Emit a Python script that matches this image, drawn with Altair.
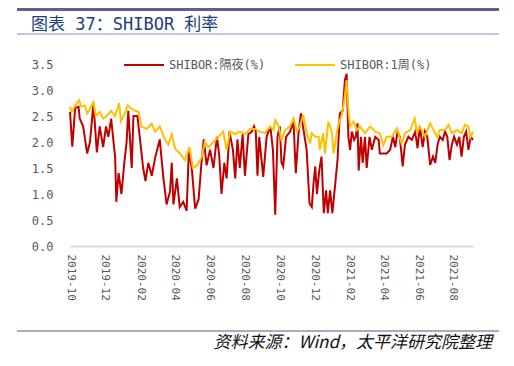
import altair as alt
import pandas as pd

# ---- data ----
on_dates = [
    "2019-10-01", "2019-10-05", "2019-10-10", "2019-10-16", "2019-10-18", "2019-10-24", "2019-10-31",
    "2019-11-05", "2019-11-11", "2019-11-17", "2019-11-22", "2019-11-28",
    "2019-12-03", "2019-12-07", "2019-12-12", "2019-12-19", "2019-12-21", "2019-12-25", "2019-12-30",
    "2020-01-04", "2020-01-08", "2020-01-11", "2020-01-17", "2020-01-20", "2020-01-27", "2020-01-30",
    "2020-02-06", "2020-02-10", "2020-02-15", "2020-02-21", "2020-02-27",
    "2020-03-06", "2020-03-12", "2020-03-18", "2020-03-24", "2020-03-27", "2020-03-30",
    "2020-04-05", "2020-04-10", "2020-04-16", "2020-04-22", "2020-04-26",
    "2020-05-01", "2020-05-07", "2020-05-13", "2020-05-18", "2020-05-22", "2020-05-27",
    "2020-06-02", "2020-06-08", "2020-06-14", "2020-06-18", "2020-06-22", "2020-06-27",
    "2020-07-01", "2020-07-06", "2020-07-12", "2020-07-16", "2020-07-20", "2020-07-24", "2020-07-29",
    "2020-08-02", "2020-08-08", "2020-08-14", "2020-08-18", "2020-08-21", "2020-08-24", "2020-08-27",
    "2020-09-03", "2020-09-09", "2020-09-12", "2020-09-16", "2020-09-20", "2020-09-24", "2020-09-28",
    "2020-10-02", "2020-10-05", "2020-10-08", "2020-10-13", "2020-10-20", "2020-10-26", "2020-10-30",
    "2020-11-04", "2020-11-08", "2020-11-13", "2020-11-18", "2020-11-23", "2020-11-27", "2020-11-30",
    "2020-12-03", "2020-12-06", "2020-12-10", "2020-12-14", "2020-12-18", "2020-12-22", "2020-12-25", "2020-12-29",
    "2021-01-02", "2021-01-07", "2021-01-11", "2021-01-15", "2021-01-20", "2021-01-24", "2021-01-27", "2021-01-30",
    "2021-02-02", "2021-02-05", "2021-02-09", "2021-02-12", "2021-02-15", "2021-02-17", "2021-02-21", "2021-02-24", "2021-02-28",
    "2021-03-03", "2021-03-08", "2021-03-12", "2021-03-18", "2021-03-24", "2021-03-26",
    "2021-04-01", "2021-04-07", "2021-04-13", "2021-04-18", "2021-04-22", "2021-04-26", "2021-04-30",
    "2021-05-05", "2021-05-09", "2021-05-15", "2021-05-21", "2021-05-27", "2021-05-31",
    "2021-06-04", "2021-06-09", "2021-06-13", "2021-06-17", "2021-06-22", "2021-06-27",
    "2021-07-01", "2021-07-05", "2021-07-09", "2021-07-14", "2021-07-18", "2021-07-22", "2021-07-26", "2021-07-30",
    "2021-08-03", "2021-08-08", "2021-08-12", "2021-08-16", "2021-08-20", "2021-08-24", "2021-08-28",
    "2021-09-01", "2021-09-05",
]
on_values = [
    2.58, 1.91, 2.65, 2.68, 2.45, 2.30, 1.78,
    2.00, 2.74, 1.80, 2.30, 1.90,
    2.30, 2.10, 2.45, 1.70, 0.85, 1.40, 1.00,
    1.60, 2.00, 2.60, 1.50, 2.50, 2.50, 2.20,
    1.50, 1.25, 1.60, 1.35, 1.70,
    2.05, 1.35, 0.80, 1.05, 1.60, 0.80,
    1.30, 0.75, 0.85, 0.68, 1.85,
    1.50, 0.72, 0.90, 1.60, 2.05, 1.55,
    1.85, 1.50, 2.10, 1.75, 1.00, 1.60,
    1.30, 2.20, 1.85, 1.30, 2.05, 1.50, 2.15,
    1.35, 2.15, 2.20, 2.30, 2.20, 1.35, 2.10,
    1.33, 2.10, 2.20, 2.25, 1.85, 0.60, 2.10,
    2.30, 1.60, 1.53, 2.10, 2.20, 2.40, 1.40,
    2.20, 2.55, 2.20, 1.85, 0.82, 0.75, 1.20,
    1.53, 1.00, 1.45, 1.72, 0.63, 1.07, 0.63, 1.07,
    0.63, 1.20, 1.65, 2.55, 2.60, 3.20, 3.31, 2.10,
    1.85, 2.20, 2.04, 2.10, 2.36, 1.45, 2.10, 1.60, 2.10,
    1.50, 2.10, 1.85, 2.10, 2.04, 1.78,
    1.78, 1.78, 1.85, 2.10, 1.90, 2.20, 2.10,
    1.53, 1.95, 2.10, 2.04, 2.20, 1.88,
    2.30, 1.90, 2.20, 2.10, 1.56, 1.72,
    1.60, 1.95, 2.10, 2.04, 2.20, 2.10, 1.65, 1.95,
    2.10, 1.95, 2.10, 1.72, 2.10, 2.20, 1.85,
    2.10, 2.04,
]

w1_dates = [
    "2019-10-01", "2019-10-04", "2019-10-10", "2019-10-17", "2019-10-21", "2019-10-27", "2019-10-31",
    "2019-11-05", "2019-11-11", "2019-11-15", "2019-11-22", "2019-11-28",
    "2019-12-04", "2019-12-12", "2019-12-19", "2019-12-26", "2019-12-29",
    "2020-01-05", "2020-01-10", "2020-01-15", "2020-01-23", "2020-01-29",
    "2020-02-03", "2020-02-12", "2020-02-21", "2020-02-27",
    "2020-03-06", "2020-03-15", "2020-03-21", "2020-03-27",
    "2020-04-02", "2020-04-10", "2020-04-19", "2020-04-27",
    "2020-05-03", "2020-05-10", "2020-05-18", "2020-05-24", "2020-05-30",
    "2020-06-08", "2020-06-17", "2020-06-25",
    "2020-07-01", "2020-07-07", "2020-07-16", "2020-07-24",
    "2020-08-02", "2020-08-11", "2020-08-20", "2020-08-28",
    "2020-09-06", "2020-09-15", "2020-09-21", "2020-09-24", "2020-09-30",
    "2020-10-05", "2020-10-11", "2020-10-20", "2020-10-26",
    "2020-11-01", "2020-11-06", "2020-11-12", "2020-11-18", "2020-11-24", "2020-11-27",
    "2020-12-03", "2020-12-09", "2020-12-11", "2020-12-17", "2020-12-20", "2020-12-26",
    "2021-01-01", "2021-01-04", "2021-01-10", "2021-01-14", "2021-01-18", "2021-01-23", "2021-01-27", "2021-01-30",
    "2021-02-02", "2021-02-08", "2021-02-14", "2021-02-19", "2021-02-28",
    "2021-03-09", "2021-03-18", "2021-03-26",
    "2021-04-01", "2021-04-07", "2021-04-16", "2021-04-25",
    "2021-05-03", "2021-05-09", "2021-05-18", "2021-05-26", "2021-05-30",
    "2021-06-04", "2021-06-13", "2021-06-22", "2021-06-28",
    "2021-07-04", "2021-07-09", "2021-07-18", "2021-07-24", "2021-07-30",
    "2021-08-08", "2021-08-16", "2021-08-22", "2021-08-28",
    "2021-09-01", "2021-09-05",
]
w1_values = [
    2.68, 2.58, 2.70, 2.80, 2.68, 2.70, 2.55,
    2.65, 2.77, 2.50, 2.58, 2.45,
    2.50, 2.60, 2.50, 2.75, 2.40,
    2.55, 2.70, 2.65, 2.60, 2.58,
    2.30, 2.25, 2.35, 2.20,
    2.30, 2.05, 1.95, 2.15,
    1.87, 1.78, 1.65, 1.90,
    1.50, 1.55, 1.70, 2.00, 1.90,
    2.00, 2.10, 2.20,
    1.85, 2.20, 2.15, 2.20,
    2.15, 2.25, 2.25, 2.20,
    2.17, 2.30, 2.23, 2.42, 2.30,
    2.04, 2.23, 2.30, 2.45,
    2.20, 2.30, 2.52, 2.17, 1.97, 2.17,
    2.10, 2.10, 1.85, 2.17, 1.78, 2.39,
    2.20, 1.78, 2.20, 2.39, 2.49, 2.81, 3.19, 2.62,
    2.30, 2.39, 2.23, 2.30, 2.17,
    2.30, 2.20, 2.17,
    1.94, 2.10, 2.10, 2.26,
    1.97, 2.17, 2.23, 2.45, 2.17,
    2.30, 2.10, 2.36, 2.23,
    2.10, 2.23, 2.23, 2.33, 2.17,
    2.23, 2.17, 2.33, 2.30,
    2.10, 2.20,
]

series_names = ["SHIBOR:隔夜(%)", "SHIBOR:1周(%)"]
series_colors = ["#C00000", "#FFC000"]
y_ticks = [0, 0.5, 1.0, 1.5, 2.0, 2.5, 3.0, 3.5]
x_tick_months = [(2019, 10), (2019, 12), (2020, 2), (2020, 4), (2020, 6), (2020, 8),
                 (2020, 10), (2020, 12), (2021, 2), (2021, 4), (2021, 6), (2021, 8)]

title_text = "图表 37：SHIBOR 利率"
source_text = "资料来源：Wind，太平洋研究院整理"

# ---- build tables ----
df_on = pd.DataFrame({"date": pd.to_datetime(on_dates), "value": on_values, "series": series_names[0]})
df_w1 = pd.DataFrame({"date": pd.to_datetime(w1_dates), "value": w1_values, "series": series_names[1]})

mono = "DejaVu Sans Mono, Noto Sans CJK SC"

x_enc = alt.X(
    "date:T",
    scale=alt.Scale(domain=[alt.DateTime(year=2019, month=10, date=1),
                            alt.DateTime(year=2021, month=9, date=5)]),
    axis=alt.Axis(
        values=[alt.DateTime(year=y, month=m, date=1) for y, m in x_tick_months],
        format="%Y-%m", labelAngle=90, labelAlign="left", labelBaseline="middle",
        labelPadding=8, labelFont=mono, labelFontSize=11, labelColor="#595959",
        labelOverlap=False, labelFlush=False, labelBound=False,
        ticks=False, grid=False, domainColor="#D9D9D9", domainWidth=2, title=None,
    ),
)
y_enc = alt.Y(
    "value:Q",
    scale=alt.Scale(domain=[0, 3.5], nice=False, zero=True),
    axis=alt.Axis(values=y_ticks, format=".1f", labelFont=mono, labelFontSize=12,
                  labelColor="#595959", labelPadding=17, ticks=False, grid=False,
                  domain=False, title=None),
)
color_enc = alt.Color(
    "series:N",
    scale=alt.Scale(domain=series_names, range=series_colors),
    legend=alt.Legend(
        orient="none", legendX=53, legendY=-20, direction="horizontal", title=None,
        symbolType="stroke", symbolSize=1600, symbolStrokeWidth=2,
        labelFont=mono, labelFontSize=12, labelColor="#595959",
        labelOffset=4, columnPadding=25, padding=0,
    ),
)

line_on = alt.Chart(df_on).mark_line(strokeWidth=2).encode(x=x_enc, y=y_enc, color=color_enc)
line_w1 = alt.Chart(df_w1).mark_line(strokeWidth=2).encode(x=x_enc, y=y_enc, color=color_enc)

one = pd.DataFrame({"k": [0]})

top_bar = alt.Chart(one).mark_rule(color="#5F5F96", strokeWidth=3).encode(
    x=alt.value(-53), x2=alt.value(429), y=alt.value(-54.5))
title_line = alt.Chart(one).mark_rule(color="#8C8CB8", strokeWidth=1).encode(
    x=alt.value(-53), x2=alt.value(429), y=alt.value(-30))
bottom_line = alt.Chart(one).mark_rule(color="#8C8CB8", strokeWidth=1.5).encode(
    x=alt.value(-53), x2=alt.value(429), y=alt.value(267))

title_mark = alt.Chart(one).mark_text(
    text=title_text, align="left", baseline="middle", font=mono, fontSize=17,
    color="#22407A").encode(x=alt.value(-39), y=alt.value(-39))
source_mark = alt.Chart(one).mark_text(
    text=source_text, align="right", baseline="middle", font="Noto Sans CJK SC",
    fontSize=17, fontStyle="italic", color="#111111").encode(x=alt.value(422), y=alt.value(279))

chart = alt.layer(
    top_bar, title_line, bottom_line, title_mark, source_mark, line_on, line_w1
).properties(
    width=403, height=182,
    autosize=alt.AutoSizeParams(type="none"),
    padding={"left": 62, "top": 56, "right": 33, "bottom": 108},
    background="white",
).configure_view(strokeWidth=0)

chart.save("out.html", embed_options={"renderer": "svg", "actions": False})
